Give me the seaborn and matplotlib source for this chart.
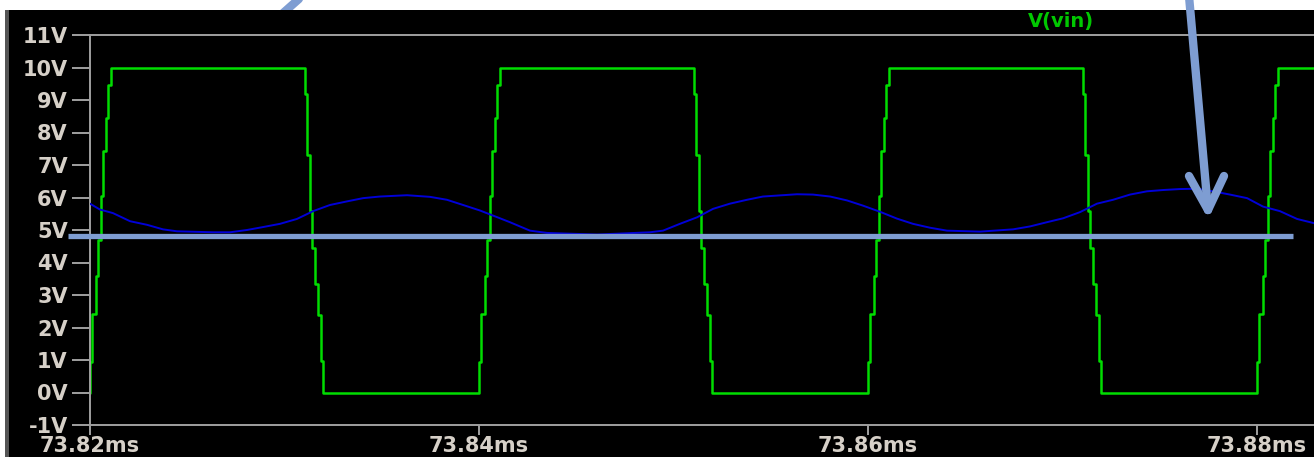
import numpy as np
import pandas as pd
import seaborn as sns
import matplotlib.pyplot as plt
from matplotlib.patches import Rectangle
from matplotlib.lines import Line2D

# square wave V(vin): edge start times (ms) and stepped edge shapes (us offset, V)
rise_starts = [73.82, 73.84, 73.86, 73.88]
fall_starts = [73.81105, 73.83105, 73.85105, 73.87105, 73.89105]
rise_dt = [0.0, 0.12, 0.29, 0.43, 0.55, 0.68, 0.80, 0.94, 1.08]
rise_v = [0.93, 2.42, 3.60, 4.70, 6.06, 7.42, 8.45, 9.45, 10.0]
fall_dt = [0.0, 0.12, 0.26, 0.38, 0.52, 0.69, 0.81, 0.95]
fall_v = [9.17, 7.30, 5.60, 4.46, 3.35, 2.37, 0.96, 0.0]

# filtered output (blue trace), time in us after 73.82ms
out_us = [0.00, 0.51, 1.18, 2.06, 2.93, 3.75, 4.47, 6.32, 7.20, 8.07, 8.89, 9.77,
          10.64, 11.47, 12.34, 13.21, 14.04, 14.91, 16.30, 17.48, 18.35, 19.18,
          20.05, 21.08, 21.59, 22.62, 23.50, 26.07, 28.79, 29.46, 30.33, 31.21,
          32.03, 32.90, 33.78, 34.60, 36.35, 37.17, 38.05, 38.92, 39.74, 40.62,
          41.49, 42.31, 43.19, 44.06, 45.76, 47.46, 48.33, 49.20, 50.03, 50.90,
          51.77, 52.60, 53.47, 54.34, 55.17, 56.04, 56.92, 57.74, 58.61, 59.49,
          60.31, 61.18, 62.06, 62.93]
out_v = [5.81, 5.63, 5.52, 5.27, 5.16, 5.02, 4.96, 4.93, 4.93, 5.00, 5.09, 5.19,
         5.34, 5.58, 5.77, 5.88, 5.98, 6.03, 6.07, 6.02, 5.93, 5.77,
         5.60, 5.36, 5.24, 4.98, 4.91, 4.86, 4.93, 4.98, 5.19, 5.39,
         5.65, 5.81, 5.93, 6.03, 6.10, 6.09, 6.03, 5.91, 5.75, 5.56,
         5.35, 5.19, 5.07, 4.98, 4.95, 5.02, 5.11, 5.24, 5.36, 5.55,
         5.81, 5.93, 6.09, 6.19, 6.23, 6.26, 6.27, 6.19, 6.09, 5.98,
         5.72, 5.58, 5.34, 5.21]

# marker line drawn on the screenshot
ref_level = 4.83
ref_span = [73.81887, 73.88185]

y_ticks = list(range(-1, 12))
y_labels = [f"{v}V" for v in y_ticks]
x_ticks = [73.82, 73.84, 73.86, 73.88]
x_labels = ["73.82ms", "73.84ms", "73.86ms", "73.88ms"]

# build the green trace from the edges
edges = []
for t in fall_starts:
    edges += [(t + d / 1000, v) for d, v in zip(fall_dt, fall_v)]
for t in rise_starts:
    edges += [(t + d / 1000, v) for d, v in zip(rise_dt, rise_v)]
edges.sort()
df_in = pd.DataFrame(edges, columns=["t", "v"])
df_out = pd.DataFrame({"t": [73.82 + u / 1000 for u in out_us], "v": out_v})

sns.set_theme(style="dark")
plt.rcParams["font.family"] = ["DejaVu Sans"]

W, H = 1314, 457
fig = plt.figure(figsize=(W / 100, H / 100), dpi=100, facecolor="white")
arrow_c = "#7e9dd2"
grid_c = "#a0a0a0"
label_c = "#d6d0c8"

# screenshot background
fig.patches.append(Rectangle((5 / W, 0), 1, 1 - 10 / H, transform=fig.transFigure,
                             facecolor="black", edgecolor="none", zorder=-10))
fig.patches.append(Rectangle((5 / W, 0), 4 / W, 1 - 10 / H, transform=fig.transFigure,
                             facecolor="#555555", edgecolor="none", zorder=-9))
fig.lines.append(Line2D([300 / W, 282 / W], [1 + 2 / H, 1 - 14 / H], transform=fig.transFigure,
                        color=arrow_c, lw=6, zorder=-11))

ax = fig.add_axes([90 / W, 1 - 425 / H, (W - 90) / W, 390 / H])
ax.set_facecolor("black")

sns.lineplot(data=df_in, x="t", y="v", ax=ax, color="#00dd00", lw=1.8,
             drawstyle="steps-post", estimator=None, sort=False, zorder=2)
sns.lineplot(data=df_out, x="t", y="v", ax=ax, color="#0000d8", lw=1.4,
             estimator=None, sort=False, zorder=3)
ax.hlines(ref_level, ref_span[0], ref_span[1], color=arrow_c, lw=3.8,
          clip_on=False, zorder=4)

ax.set_xlim(73.82, 73.82 + 62.93 / 1000)
ax.set_ylim(-1, 11)
ax.set_yticks(y_ticks)
ax.set_yticklabels(y_labels, fontweight="bold")
ax.set_xticks(x_ticks)
ax.set_xticklabels(x_labels, fontweight="bold")
ax.set_xlabel("")
ax.set_ylabel("")
ax.grid(False)

ax.tick_params(axis="y", length=13, width=1.4, color=grid_c, pad=3,
               labelsize=15, labelcolor=label_c, direction="out", left=True)
ax.tick_params(axis="x", length=7, width=1.4, color=grid_c, pad=1,
               labelsize=15, labelcolor=label_c, direction="out", bottom=True)
for side in ["left", "top", "bottom"]:
    ax.spines[side].set_visible(True)
    ax.spines[side].set_color(grid_c)
    ax.spines[side].set_linewidth(1.4)
ax.spines["right"].set_visible(False)

fig.text(1061 / W, 1 - 22 / H, "V(vin)", color="#00c800", ha="center", va="center",
         fontsize=14, fontweight="bold")

# pointing arrow on the right
tip = (1208, 210)
for px, py in [(1189, -4), (1189, 176), (1224, 176)]:
    fig.lines.append(Line2D([px / W, tip[0] / W], [1 - py / H, 1 - tip[1] / H],
                            transform=fig.transFigure, color=arrow_c,
                            lw=6, solid_capstyle="round", zorder=5))

fig.savefig("out.png", dpi=100, facecolor="white")
